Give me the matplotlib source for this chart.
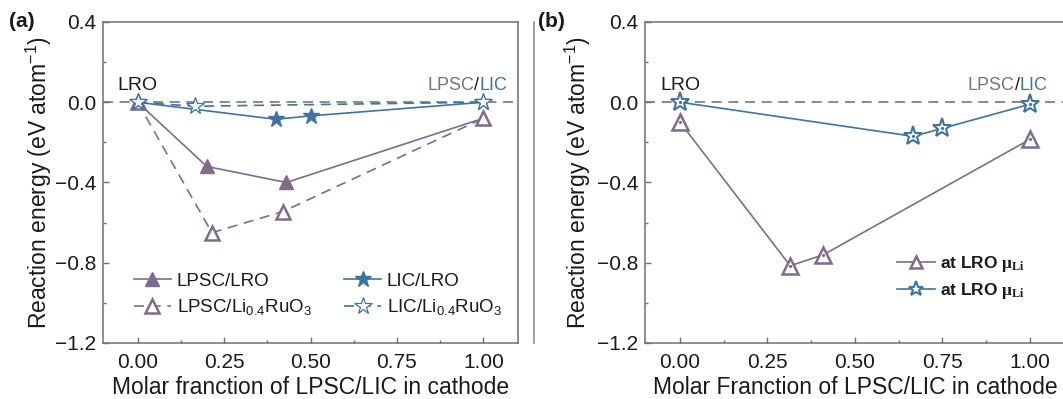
import numpy as np
import matplotlib
matplotlib.use("Agg")
import matplotlib.pyplot as plt
from matplotlib.lines import Line2D
from matplotlib.offsetbox import TextArea, HPacker, AnnotationBbox
from matplotlib.ticker import MultipleLocator

plt.rcParams['font.family'] = ['Liberation Sans', 'DejaVu Sans']
plt.rcParams['mathtext.fontset'] = 'custom'
plt.rcParams['mathtext.rm'] = 'Liberation Sans'
plt.rcParams['mathtext.it'] = 'Liberation Sans:italic'
plt.rcParams['mathtext.bf'] = 'Liberation Serif:bold'

#DATA

# panel (a)
lpsc_lro_x = [0.0, 0.20, 0.43, 1.0]
lpsc_lro_y = [0.0, -0.32, -0.40, -0.08]

lpsc_li04_x = [0.0, 0.215, 0.42, 1.0]
lpsc_li04_y = [0.0, -0.65, -0.545, -0.08]

lic_lro_x = [0.0, 0.40, 0.50, 1.0]
lic_lro_y = [0.0, -0.085, -0.068, 0.0]

lic_li04_x = [0.0, 0.165, 1.0]
lic_li04_y = [0.0, -0.02, 0.0]

# panel (b)
lpsc_mu_x = [0.0, 0.315, 0.41, 1.0]
lpsc_mu_y = [-0.10, -0.815, -0.76, -0.185]

lic_mu_x = [0.0, 0.667, 0.75, 1.0]
lic_mu_y = [0.0, -0.17, -0.13, -0.01]

x_ticks = [0.0, 0.25, 0.5, 0.75, 1.0]
y_ticks = [0.4, 0.0, -0.4, -0.8, -1.2]

#STYLE

purple = '#7d6c8c'
blue = '#3f74a0'
spine_color = '#707070'
text_color = '#1a1a1a'


def style_axes(ax, label_x):
    ax.set_xlim(-0.1, 1.1)
    ax.set_ylim(-1.2, 0.4)
    ax.set_xticks(x_ticks)
    ax.set_yticks(y_ticks)
    ax.xaxis.set_minor_locator(MultipleLocator(0.125))
    ax.yaxis.set_minor_locator(MultipleLocator(0.2))
    ax.tick_params(which='both', direction='in', colors=spine_color,
                   labelcolor=text_color, labelsize=15, width=1)
    ax.tick_params(which='major', length=4, pad=7)
    ax.tick_params(axis='y', which='major', pad=5)
    ax.tick_params(which='minor', length=2.5)
    ax.xaxis.set_major_formatter(matplotlib.ticker.FormatStrFormatter('%.2f'))
    ax.yaxis.set_major_formatter(matplotlib.ticker.FuncFormatter(
        lambda v, p: f"{v:.1f}".replace('-', '\u2212')))
    for s in ax.spines.values():
        s.set_color(spine_color)
        s.set_linewidth(1.1)
    ax.axhline(0, color='#777777', lw=1.2, ls=(0, (6, 4)), zorder=1)
    ax.set_ylabel(r"Reaction energy (eV atom$^{-1}$)", fontsize=16.5, color=text_color)
    ax.yaxis.set_label_coords(label_x, 0.5)


def colored_label(ax, x, y, parts, size=13):
    boxes = [TextArea(t, textprops=dict(color=c, fontsize=size)) for t, c in parts]
    pack = HPacker(children=boxes, align='baseline', pad=0, sep=0)
    ab = AnnotationBbox(pack, (x, y), xycoords='data', box_alignment=(0, 0.5),
                        frameon=False, pad=0, annotation_clip=False)
    ax.add_artist(ab)


fig = plt.figure(figsize=(10.63, 3.99), dpi=100)
ax_a = fig.add_axes([0.0969, 0.1404, 0.3904, 0.8045])
ax_b = fig.add_axes([0.6068, 0.1404, 0.3950, 0.8045])

# ---- panel (a)
style_axes(ax_a, -0.118)
ax_a.plot(lpsc_lro_x, lpsc_lro_y, color=purple, lw=1.2, marker='^', ms=10,
          mfc=purple, mec=purple, label='LPSC/LRO', zorder=3)
ax_a.plot(lpsc_li04_x, lpsc_li04_y, color=purple, lw=1.2, ls=(0, (6, 4)), marker='^',
          ms=10, mfc='white', mec=purple, mew=1.8, label=r'LPSC/Li$_{0.4}$RuO$_3$', zorder=4)
ax_a.plot(lic_lro_x, lic_lro_y, color=blue, lw=1.2, marker='*', ms=12,
          mfc=blue, mec=blue, label='LIC/LRO', zorder=5)
ax_a.plot(lic_li04_x, lic_li04_y, color=blue, lw=1.2, ls=(0, (6, 4)), marker='*',
          ms=13, mfc='white', mec=blue, mew=0.9, label=r'LIC/Li$_{0.4}$RuO$_3$', zorder=6)
ax_a.set_xlabel("Molar franction of LPSC/LIC in cathode", fontsize=16.5,
                color=text_color, labelpad=3)
ax_a.text(0.0, 0.085, "LRO", ha='center', va='center', fontsize=14, color=text_color)
colored_label(ax_a, 0.838, 0.085, [("LPSC", purple), ("/", text_color), ("LIC", blue)])
ax_a.legend(loc='lower left', bbox_to_anchor=(0.074, 0.08), ncol=2, frameon=False,
            fontsize=13.5, handlelength=2.0, handletextpad=0.3, columnspacing=1.7,
            labelspacing=0.4, borderaxespad=0, borderpad=0, labelcolor=text_color)

# ---- panel (b)
style_axes(ax_b, -0.125)
ax_b.plot(lpsc_mu_x, lpsc_mu_y, color=purple, lw=1.2, marker='^', ms=11,
          mfc='white', mec=purple, mew=1.8, label=r'at LRO $\mathbf{\mu_{Li}}$', zorder=3)
ax_b.plot(lic_mu_x, lic_mu_y, color=blue, lw=1.2, marker='*', ms=14,
          mfc='white', mec=blue, mew=1.5, label=r'at LRO $\mathbf{\mu_{Li}}$', zorder=4)
ax_b.plot(lpsc_mu_x, lpsc_mu_y, ls='none', marker='o', ms=1.3, color=purple, zorder=5)
ax_b.plot(lic_mu_x, lic_mu_y, ls='none', marker='o', ms=1.3, color=blue, zorder=5)
ax_b.set_xlabel("Molar Franction of LPSC/LIC in cathode", fontsize=16.5,
                color=text_color, labelpad=3)
ax_b.text(0.0, 0.085, "LRO", ha='center', va='center', fontsize=14, color=text_color)
colored_label(ax_b, 0.822, 0.085, [("LPSC", purple), ("/", text_color), ("LIC", blue)])
handles, labels = ax_b.get_legend_handles_labels()
ax_b.legend(handles[:2], labels[:2], loc='lower left', bbox_to_anchor=(0.6, 0.132),
            frameon=False, prop=dict(family='Liberation Sans', size=12.5, weight='bold'),
            handlelength=2.2, handletextpad=0.3, labelspacing=0.4, borderaxespad=0,
            borderpad=0, markerscale=0.8, labelcolor=text_color)

# panel letters
fig.text(0.008, 0.945, "(a)", fontsize=15, fontweight='bold', color=text_color,
         ha='left', va='center')
fig.text(0.506, 0.945, "(b)", fontsize=15, fontweight='bold', color=text_color,
         ha='left', va='center')

# stray frame edge left of panel (b)
fig.add_artist(Line2D([0.5024, 0.5024], [0.1404, 0.9449], color='#888888', lw=1.1,
                      transform=fig.transFigure))

fig.savefig("out.png", dpi=100)
